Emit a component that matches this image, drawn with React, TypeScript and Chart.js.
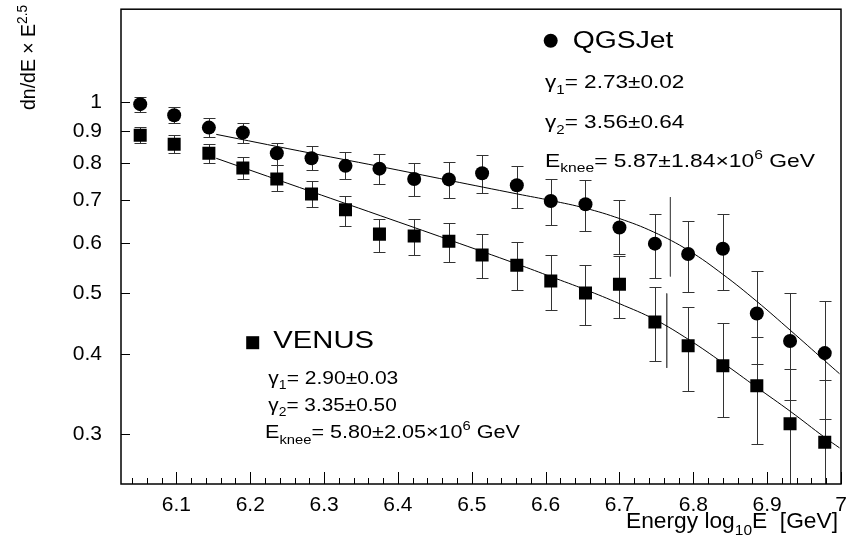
import React, { useEffect, useRef } from 'react';
import { Chart, registerables } from 'chart.js';

Chart.register(...registerables);

// ---------- data ----------
const binX = [6.051, 6.097, 6.144, 6.190, 6.236, 6.283, 6.329, 6.375, 6.422, 6.469, 6.514, 6.561, 6.607, 6.654, 6.700, 6.748, 6.793, 6.840, 6.886, 6.931, 6.978];

const qgsY = [0.992, 0.953, 0.911, 0.895, 0.830, 0.815, 0.793, 0.785, 0.756, 0.755, 0.772, 0.739, 0.698, 0.690, 0.634, 0.598, 0.576, 0.587, 0.464, 0.420, 0.402];
const qgsLo = [0.965, 0.925, 0.882, 0.861, 0.795, 0.780, 0.755, 0.743, 0.711, 0.706, 0.718, 0.681, 0.640, 0.626, 0.576, 0.528, 0.501, 0.505, 0.386, 0.339, 0.316];
const qgsHi = [1.018, 0.981, 0.942, 0.927, 0.863, 0.853, 0.833, 0.827, 0.801, 0.803, 0.824, 0.794, 0.756, 0.752, 0.701, 0.667, 0.650, 0.667, 0.541, 0.500, 0.486];

const venY = [0.886, 0.858, 0.830, 0.787, 0.756, 0.716, 0.676, 0.619, 0.615, 0.603, 0.574, 0.553, 0.522, 0.500, 0.516, 0.450, 0.413, 0.384, 0.357, 0.311, 0.291];
const venLo = [0.861, 0.830, 0.800, 0.756, 0.723, 0.683, 0.638, 0.581, 0.574, 0.559, 0.528, 0.505, 0.470, 0.445, 0.456, 0.391, 0.350, 0.319, 0.289, 0.240, 0.220];
const venHi = [0.913, 0.886, 0.860, 0.819, 0.795, 0.751, 0.711, 0.655, 0.655, 0.645, 0.619, 0.602, 0.573, 0.554, 0.571, 0.511, 0.476, 0.448, 0.426, 0.380, 0.365];

const qgsFitX = [6.154, 6.267, 6.376, 6.470, 6.562, 6.608, 6.654, 6.700, 6.746, 6.794, 6.840, 6.886, 6.932, 6.978, 6.998];
const qgsFitY = [0.889, 0.837, 0.791, 0.752, 0.716, 0.699, 0.680, 0.655, 0.624, 0.583, 0.535, 0.485, 0.436, 0.391, 0.373];

const venFitX = [6.154, 6.267, 6.376, 6.470, 6.562, 6.608, 6.654, 6.700, 6.748, 6.794, 6.840, 6.886, 6.932, 6.978, 6.998];
const venFitY = [0.815, 0.733, 0.662, 0.606, 0.555, 0.530, 0.506, 0.481, 0.454, 0.422, 0.388, 0.355, 0.325, 0.296, 0.285];

// knee markers (vertical lines)
const qgsKneeX = [6.769, 6.769];
const qgsKneeY = [0.708, 0.531];
const venKneeX = [6.764, 6.764];
const venKneeY = [0.499, 0.381];

const xTickValues = [6.1, 6.2, 6.3, 6.4, 6.5, 6.6, 6.7, 6.8, 6.9, 7.0];
const xTickLabels = ['6.1', '6.2', '6.3', '6.4', '6.5', '6.6', '6.7', '6.8', '6.9', '7'];
const yTickValues = [0.3, 0.4, 0.5, 0.6, 0.7, 0.8, 0.9, 1];
const yTickLabels = ['0.3', '0.4', '0.5', '0.6', '0.7', '0.8', '0.9', '1'];

type Seg = { t: string; s?: 'sub' | 'sup' };

const yTitle: Seg[] = [{ t: 'dn/dE × E' }, { t: '2.5', s: 'sup' }];
const xTitle: Seg[] = [{ t: 'Energy log' }, { t: '10', s: 'sub' }, { t: 'E  [GeV]' }];

const qgsName: Seg[] = [{ t: 'QGSJet' }];
const qgsG1: Seg[] = [{ t: 'γ' }, { t: '1', s: 'sub' }, { t: '= 2.73±0.02' }];
const qgsG2: Seg[] = [{ t: 'γ' }, { t: '2', s: 'sub' }, { t: '= 3.56±0.64' }];
const qgsEk: Seg[] = [{ t: 'E' }, { t: 'knee', s: 'sub' }, { t: '= 5.87±1.84×10' }, { t: '6', s: 'sup' }, { t: ' GeV' }];

const venName: Seg[] = [{ t: 'VENUS' }];
const venG1: Seg[] = [{ t: 'γ' }, { t: '1', s: 'sub' }, { t: '= 2.90±0.03' }];
const venG2: Seg[] = [{ t: 'γ' }, { t: '2', s: 'sub' }, { t: '= 3.35±0.50' }];
const venEk: Seg[] = [{ t: 'E' }, { t: 'knee', s: 'sub' }, { t: '= 5.80±2.05×10' }, { t: '6', s: 'sup' }, { t: ' GeV' }];

const FONT = '"Liberation Sans", Arial, Helvetica, sans-serif';

function drawRich(ctx: CanvasRenderingContext2D, segs: Seg[], x: number, y: number, size: number, width?: number, rotate = false) {
  const small = Math.round(size * 0.68);
  const fonts = segs.map((s) => `${s.s ? small : size}px ${FONT}`);
  const ws = segs.map((s, i) => {
    ctx.font = fonts[i];
    return ctx.measureText(s.t).width;
  });
  const total = ws.reduce((a, b) => a + b, 0);
  const sx = width ? width / total : 1;
  ctx.save();
  ctx.translate(x, y);
  if (rotate) ctx.rotate(-Math.PI / 2);
  ctx.scale(sx, 1);
  ctx.fillStyle = '#000';
  ctx.textAlign = 'left';
  ctx.textBaseline = 'alphabetic';
  let cx = 0;
  segs.forEach((s, i) => {
    ctx.font = fonts[i];
    const dy = s.s === 'sub' ? size * 0.3 : s.s === 'sup' ? -size * 0.42 : 0;
    ctx.fillText(s.t, cx, dy);
    cx += ws[i];
  });
  ctx.restore();
}

const decorPlugin = {
  id: 'decor',
  beforeDatasetsDraw(chart: any) {
    const { ctx, chartArea: a, scales } = chart;
    const xs = scales.x;
    const ys = scales.y;
    ctx.save();
    ctx.beginPath();
    ctx.rect(a.left, a.top, a.right - a.left, a.bottom - a.top);
    ctx.clip();
    ctx.strokeStyle = '#333';
    ctx.lineWidth = 1;
    const bars = [
      [qgsLo, qgsHi],
      [venLo, venHi],
    ];
    for (const [lo, hi] of bars) {
      binX.forEach((xv, i) => {
        const px = Math.round(xs.getPixelForValue(xv)) + 0.5;
        const y1 = Math.round(ys.getPixelForValue(lo[i])) + 0.5;
        const y2 = Math.round(ys.getPixelForValue(hi[i])) + 0.5;
        ctx.beginPath();
        ctx.moveTo(px, y1);
        ctx.lineTo(px, y2);
        ctx.moveTo(px - 6, y1);
        ctx.lineTo(px + 6, y1);
        ctx.moveTo(px - 6, y2);
        ctx.lineTo(px + 6, y2);
        ctx.stroke();
      });
    }
    ctx.restore();
  },
  afterDraw(chart: any) {
    const { ctx, chartArea: a, scales } = chart;
    const xs = scales.x;
    const ys = scales.y;
    ctx.save();
    // frame
    ctx.strokeStyle = '#000';
    ctx.lineWidth = 1.5;
    ctx.strokeRect(a.left, a.top, a.right - a.left, a.bottom - a.top);
    // x ticks
    ctx.lineWidth = 1;
    ctx.beginPath();
    xTickValues.forEach((v) => {
      const p = Math.round(xs.getPixelForValue(v)) + 0.5;
      ctx.moveTo(p, a.bottom);
      ctx.lineTo(p, a.bottom - 12);
    });
    for (let k = 0; k < 60; k++) {
      const v = Math.round((6.04 + k * 0.02) * 100) / 100;
      if (v > 7) break;
      if (Math.abs(v * 10 - Math.round(v * 10)) < 1e-6) continue;
      const p = Math.round(xs.getPixelForValue(v)) + 0.5;
      ctx.moveTo(p, a.bottom);
      ctx.lineTo(p, a.bottom - 6);
    }
    // y ticks
    yTickValues.forEach((v) => {
      const p = Math.round(ys.getPixelForValue(v)) + 0.5;
      ctx.moveTo(a.left, p);
      ctx.lineTo(a.left + 9, p);
    });
    ctx.stroke();
    ctx.restore();

    // axis titles
    drawRich(ctx, yTitle, 35, 110, 20, 105, true);
    drawRich(ctx, xTitle, 626, 528, 22, 212);

    // legend-like markers
    ctx.save();
    ctx.fillStyle = '#000';
    ctx.beginPath();
    ctx.arc(550.7, 40.7, 7, 0, Math.PI * 2);
    ctx.fill();
    ctx.fillRect(252.7 - 6.5, 342.7 - 6.5, 13, 13);
    ctx.restore();

    // QGSJet annotation
    drawRich(ctx, qgsName, 572.7, 48, 23, 100.7);
    drawRich(ctx, qgsG1, 545, 88.3, 18, 139.3);
    drawRich(ctx, qgsG2, 545, 128.3, 18, 139.3);
    drawRich(ctx, qgsEk, 545, 166.7, 19, 270);

    // VENUS annotation
    drawRich(ctx, venName, 273.3, 348.3, 23, 100.7);
    drawRich(ctx, venG1, 268.3, 384, 18, 130);
    drawRich(ctx, venG2, 268.3, 411, 18, 128.4);
    drawRich(ctx, venEk, 265, 438, 19, 255);
  },
};

export default function App() {
  const ref = useRef<HTMLCanvasElement | null>(null);

  useEffect(() => {
    document.body.style.margin = '0';
    const canvas = ref.current;
    if (!canvas) return;

    const pts = (xs: number[], ys: number[]) => xs.map((x, i) => ({ x, y: ys[i] }));

    const chart = new Chart(canvas, {
      type: 'scatter',
      data: {
        datasets: [
          {
            label: 'QGSJet',
            data: pts(binX, qgsY),
            pointStyle: 'circle',
            pointRadius: 7,
            pointBackgroundColor: '#000',
            pointBorderWidth: 0,
            showLine: false,
          },
          {
            label: 'VENUS',
            data: pts(binX, venY),
            pointStyle: 'rect',
            pointRadius: 9.2,
            pointBackgroundColor: '#000',
            pointBorderWidth: 0,
            showLine: false,
          },
          {
            label: 'QGSJet fit',
            data: pts(qgsFitX, qgsFitY),
            showLine: true,
            pointRadius: 0,
            borderColor: '#000',
            borderWidth: 1,
            tension: 0.4,
          },
          {
            label: 'VENUS fit',
            data: pts(venFitX, venFitY),
            showLine: true,
            pointRadius: 0,
            borderColor: '#000',
            borderWidth: 1,
            tension: 0.4,
          },
          {
            label: 'QGSJet knee',
            data: pts(qgsKneeX, qgsKneeY),
            showLine: true,
            pointRadius: 0,
            borderColor: '#555',
            borderWidth: 1,
          },
          {
            label: 'VENUS knee',
            data: pts(venKneeX, venKneeY),
            showLine: true,
            pointRadius: 0,
            borderColor: '#555',
            borderWidth: 1,
          },
        ] as any,
      },
      options: {
        animation: false,
        responsive: false,
        devicePixelRatio: 1,
        events: [],
        layout: { padding: { top: 5, right: 23, left: 0, bottom: 0 } },
        plugins: {
          legend: { display: false },
          tooltip: { enabled: false },
          title: { display: false },
        },
        scales: {
          x: {
            type: 'linear',
            min: 6.025,
            max: 7.0,
            grid: { display: false, drawTicks: false },
            border: { display: false },
            ticks: {
              color: '#000',
              font: { family: FONT, size: 21 },
              padding: 9,
              maxRotation: 0,
              autoSkip: false,
              callback: (v: any) => {
                const i = xTickValues.findIndex((t) => Math.abs(t - Number(v)) < 1e-6);
                return i >= 0 ? xTickLabels[i] : '';
              },
            },
            afterBuildTicks: (scale: any) => {
              scale.ticks = xTickValues.map((v) => ({ value: v }));
            },
            afterFit: (scale: any) => {
              scale.height = 60;
              scale.paddingLeft = 0;
              scale.paddingRight = 0;
            },
          },
          y: {
            type: 'logarithmic',
            min: 0.25,
            max: 1.4,
            grid: { display: false, drawTicks: false },
            border: { display: false },
            ticks: {
              color: '#000',
              font: { family: FONT, size: 21 },
              padding: 19,
              autoSkip: false,
              callback: (v: any) => {
                const i = yTickValues.findIndex((t) => Math.abs(t - Number(v)) < 1e-6);
                return i >= 0 ? yTickLabels[i] : '';
              },
            },
            afterBuildTicks: (scale: any) => {
              scale.ticks = yTickValues.map((v) => ({ value: v }));
            },
            afterFit: (scale: any) => {
              scale.width = 121;
              scale.paddingTop = 0;
              scale.paddingBottom = 0;
            },
          },
        },
      } as any,
      plugins: [decorPlugin],
    });

    return () => chart.destroy();
  }, []);

  return (
    <div style={{ width: 864, height: 544, background: '#fff' }}>
      <canvas ref={ref} width={864} height={544} style={{ display: 'block' }} />
    </div>
  );
}
